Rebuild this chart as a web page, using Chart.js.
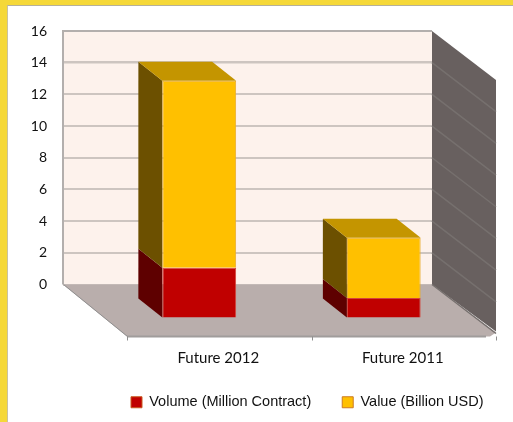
<!DOCTYPE html>
<html>
<head>
<meta charset="utf-8">
<title>Future volume and value</title>
<script src="https://cdn.jsdelivr.net/npm/chart.js@4"></script>
<style>
  html, body { margin: 0; padding: 0; background: #fff; }
  #frame { position: absolute; left: 0; top: 0; width: 513px; height: 422px; box-sizing: border-box;
           border-left: 7px solid #f5d838; border-top: 5px solid #f5d838; }
  #frame::after { content: ""; position: absolute; left: 0; top: 0; right: 0; bottom: 0;
                  border-left: 1px solid #c9c2a0; border-top: 1px solid #b5b09a; }
  canvas { position: absolute; left: 0; top: 0; }
</style>
</head>
<body>
<div id="frame"></div>
<canvas id="futures" width="513" height="422"></canvas>
<script>
var categories = ['Future 2012', 'Future 2011'];
var volume = [3.2, 1.3];
var value = [11.8, 3.8];
var yTicks = [0, 2, 4, 6, 8, 10, 12, 14, 16];

// 3D box offsets: room depth, where the bar front sits, how deep a bar is
var room = { dx: 64, dy: 50 };
var barFront = { dx: 44, dy: 34 };
var barDepth = { dx: 24, dy: 19 };

function quad(ctx, pts, color) {
    ctx.fillStyle = color;
    ctx.beginPath();
    ctx.moveTo(pts[0][0], pts[0][1]);
    for (var i = 1; i < pts.length; i++) ctx.lineTo(pts[i][0], pts[i][1]);
    ctx.closePath();
    ctx.fill();
}

// back wall, floor and right wall
var roomPlugin = {
    id: 'room',
    beforeDatasetsDraw: function (chart) {
        var ctx = chart.ctx, a = chart.chartArea, yScale = chart.scales.y;
        var floorY = a.bottom + 52;
        ctx.save();

        // floor
        quad(ctx, [[a.left, a.bottom], [a.right, a.bottom], [a.right + room.dx, a.bottom + room.dy - 2],
                   [a.right + 58, floorY], [a.left + room.dx, floorY]], '#b9aeac');
        ctx.strokeStyle = '#a09c9b';
        ctx.lineWidth = 2;
        ctx.beginPath();
        ctx.moveTo(a.left + room.dx, floorY);
        ctx.lineTo(a.right + 54, floorY);
        ctx.stroke();

        // ticks along the front edge of the floor
        ctx.lineWidth = 1;
        ctx.strokeStyle = '#8f8f8f';
        ctx.beginPath();
        for (var i = 0; i <= categories.length; i++) {
            var tx = Math.round(a.left + room.dx + i * a.width / categories.length) + 0.5;
            ctx.moveTo(tx, floorY);
            ctx.lineTo(tx, floorY + 4);
        }
        ctx.moveTo(a.left + 0.5, a.bottom);
        ctx.lineTo(a.left + room.dx + 0.5, floorY);
        ctx.stroke();

        // right wall with its grid lines running towards the viewer
        quad(ctx, [[a.right, a.top], [a.right + room.dx, a.top + 49], [a.right + room.dx, a.bottom + 47], [a.right, a.bottom]], '#68605f');
        ctx.strokeStyle = '#76706e';
        ctx.lineWidth = 1.5;
        ctx.beginPath();
        yTicks.forEach(function (t) {
            if (t === 16) return;
            var y = yScale.getPixelForValue(t);
            ctx.moveTo(a.right, y);
            ctx.lineTo(a.right + room.dx, y + 49);
        });
        ctx.stroke();

        // edges of the back wall
        ctx.strokeStyle = '#b3afad';
        ctx.lineWidth = 2;
        ctx.beginPath();
        ctx.moveTo(a.left, a.bottom);
        ctx.lineTo(a.left, a.top);
        ctx.lineTo(a.right, a.top);
        ctx.stroke();
        ctx.restore();

        // side and top faces of the bars, bars themselves follow in the same shifted space
        ctx.save();
        ctx.translate(barFront.dx, barFront.dy);
        var sideColors = ['#5e0000', '#6c5000'];
        chart.data.datasets.forEach(function (ds, d) {
            chart.getDatasetMeta(d).data.forEach(function (bar) {
                var p = bar.getProps(['x', 'y', 'base', 'width'], true);
                var l = p.x - p.width / 2, r = p.x + p.width / 2;
                quad(ctx, [[l, p.y], [l - barDepth.dx, p.y - barDepth.dy], [l - barDepth.dx, p.base - barDepth.dy], [l, p.base]], sideColors[d]);
                if (d === chart.data.datasets.length - 1) {
                    quad(ctx, [[l, p.y], [l - barDepth.dx, p.y - barDepth.dy], [r - barDepth.dx, p.y - barDepth.dy], [r, p.y]], '#c49500');
                }
            });
        });
    },
    afterDatasetsDraw: function (chart) {
        chart.ctx.restore();
    },
    afterLayout: function (chart) {
        // legend sits under the floor, right of the plot's centre
        var lg = chart.legend;
        var w = lg.right - lg.left;
        lg.left = 100;
        lg.right = lg.left + w;
        lg.top = 364;
    }
};

new Chart(document.getElementById('futures').getContext('2d'), {
    type: 'bar',
    data: {
        labels: categories,
        datasets: [
            { label: 'Volume (Million Contract)', data: volume, backgroundColor: '#c00000', borderColor: '#d4433a', borderWidth: 1, clip: false },
            { label: 'Value (Billion USD)', data: value, backgroundColor: '#ffc000', borderColor: '#e8ab2c', borderWidth: 1, clip: false }
        ]
    },
    options: {
        responsive: false,
        animation: false,
        categoryPercentage: 1,
        barPercentage: 0.4,
        layout: { autoPadding: false, padding: { top: 31, right: 81, left: 0, bottom: 0 } },
        scales: {
            x: {
                stacked: true,
                grid: { display: false },
                border: { display: false },
                ticks: { color: '#111', font: { family: 'Lato', size: 15 }, padding: 57, labelOffset: 63, maxRotation: 0 },
                afterFit: function (scale) { scale.height = 82; }
            },
            y: {
                stacked: true,
                min: 0,
                max: 16,
                afterBuildTicks: function (scale) { scale.ticks = yTicks.map(function (v) { return { value: v }; }); },
                grid: { color: '#cdc5c0', lineWidth: function (c) { return c.tick.value === 16 ? 0 : c.tick.value === 14 ? 2.5 : 2; }, drawTicks: false },
                border: { display: false },
                ticks: { color: '#111', font: { family: 'Lato', size: 14 }, padding: 16 },
                afterFit: function (scale) { scale.width = 63; }
            }
        },
        plugins: {
            tooltip: { enabled: false },
            legend: {
                position: 'bottom',
                align: 'start',
                labels: {
                    boxWidth: 11,
                    boxHeight: 11,
                    padding: 31,
                    color: '#111',
                    font: { family: 'Liberation Sans', size: 14.5 },
                    generateLabels: function (chart) {
                        var items = Chart.defaults.plugins.legend.labels.generateLabels(chart);
                        items.forEach(function (it, i) { it.strokeStyle = ['#c8581f', '#cc7a22'][i]; });
                        return items;
                    }
                }
            }
        }
    },
    plugins: [{
        id: 'wall',
        beforeDraw: function (chart) {
            var c = chart.ctx, a = chart.chartArea;
            c.fillStyle = '#fdf2ec';
            c.fillRect(a.left, a.top, a.width, a.height);
        }
    }, roomPlugin]
});
</script>
</body>
</html>
